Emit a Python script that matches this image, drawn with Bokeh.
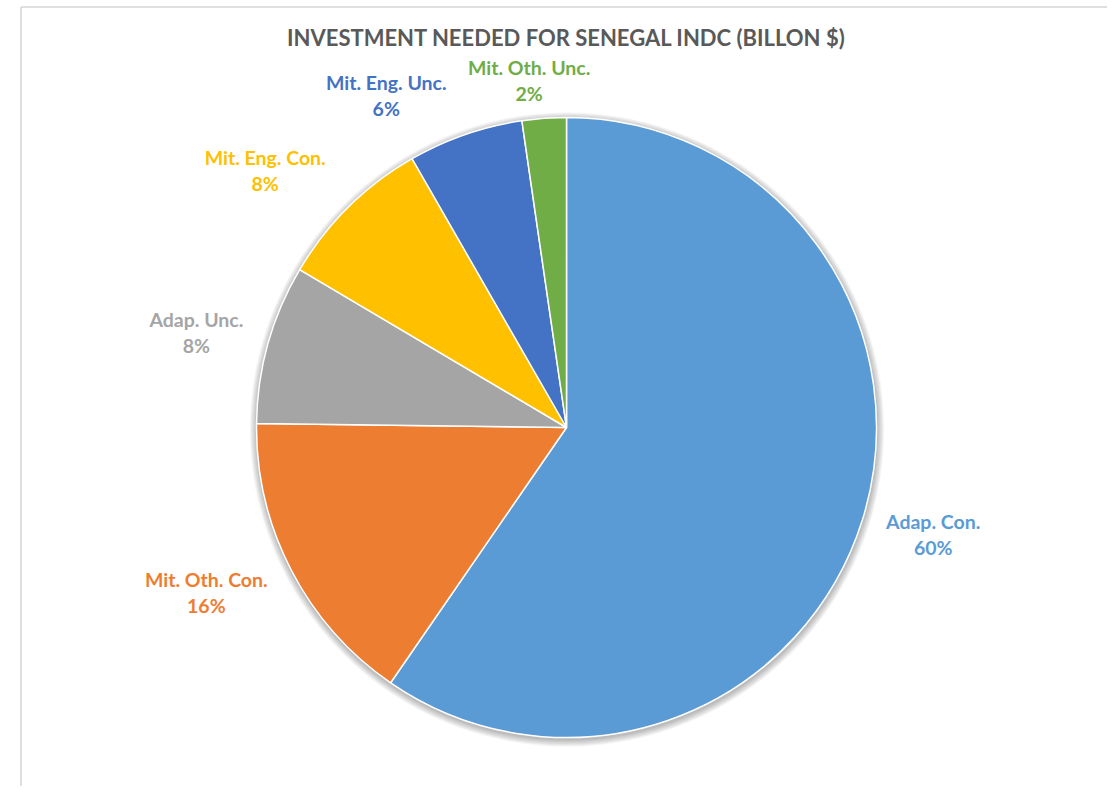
import math
from bokeh.plotting import figure
from bokeh.models import Range1d, ColumnDataSource
from bokeh.core.properties import value
from bokeh.embed import file_html
from bokeh.resources import INLINE

# ---- data ----
categories = ["Adap. Con.", "Mit. Oth. Con.", "Adap. Unc.", "Mit. Eng. Con.", "Mit. Eng. Unc.", "Mit. Oth. Unc."]
shares = [59.6, 15.6, 8.3, 8.2, 6.0, 2.3]
colors = ["#5B9BD5", "#ED7D31", "#A5A5A5", "#FFC000", "#4472C4", "#70AD47"]
title_text = "INVESTMENT NEEDED FOR SENEGAL INDC (BILLON $)"

# ---- layout ----
W, H = 1107, 786
PAGE_H = 794
def py(page_y):
    return PAGE_H - page_y

cx, cy, R = 566, py(427), 310
label_r = [382, 396, 382, 396, 378, 349]
label_nudge = [-1.0, 2.8, -1.3, -4.9, -9.4, -2.0]
FONT = "Lato"

p = figure(width=W, height=H, output_backend="svg", toolbar_location=None,
           x_range=Range1d(0, W), y_range=Range1d(PAGE_H - H, PAGE_H),
           min_border=0)
p.axis.visible = False
p.grid.visible = False
p.outline_line_color = None
p.background_fill_color = "white"
p.border_fill_color = "white"

# frame border (cropped chart area, left and top edges)
p.segment(x0=[20.5, 20.5], y0=[py(800), py(6.5)], x1=[20.5, 1120], y1=[py(6.5), py(6.5)],
          line_color="#d4d4d4", line_width=1.5)

# soft shadow
for i in range(1, 9):
    p.circle(x=[cx + 0.5], y=[cy - 2], radius=R + i * 0.9, fill_color="#000000",
             fill_alpha=0.035, line_color=None)

total = sum(shares)
starts, ends, mids = [], [], []
acc = 0.0
for v in shares:
    t1 = acc / total * 360.0
    acc += v
    t2 = acc / total * 360.0
    starts.append(math.radians(90 - t1))
    ends.append(math.radians(90 - t2))
    mids.append((t1 + t2) / 2)

src = ColumnDataSource(dict(start=starts, end=ends, color=colors))
p.wedge(x=cx, y=cy, radius=R, start_angle="start", end_angle="end", direction="clock",
        fill_color="color", line_color="white", line_width=1.5, source=src)

lx, ly, pct = [], [], []
for i, v in enumerate(shares):
    th = math.radians(mids[i] + label_nudge[i])
    lx.append(cx + label_r[i] * math.sin(th))
    ly.append(cy + label_r[i] * math.cos(th))
    pct.append(f"{round(v / total * 100)}%")

lsrc = ColumnDataSource(dict(x=lx, y=ly, name=categories, pct=pct, color=colors))
p.text(x="x", y="y", text="name", source=lsrc, text_color="color", text_align="center",
       text_baseline="middle", y_offset=-13, text_font=value(FONT), text_font_style="bold",
       text_font_size="19.5px")
p.text(x="x", y="y", text="pct", source=lsrc, text_color="color", text_align="center",
       text_baseline="middle", y_offset=13, text_font=value(FONT), text_font_style="bold",
       text_font_size="19.5px")

p.text(x=[566], y=[py(37)], text=[title_text], text_color="#595959", text_align="center",
       text_baseline="middle", text_font=value(FONT), text_font_style="bold",
       text_font_size="22px")

open("out.html", "w").write(file_html(p, INLINE))
